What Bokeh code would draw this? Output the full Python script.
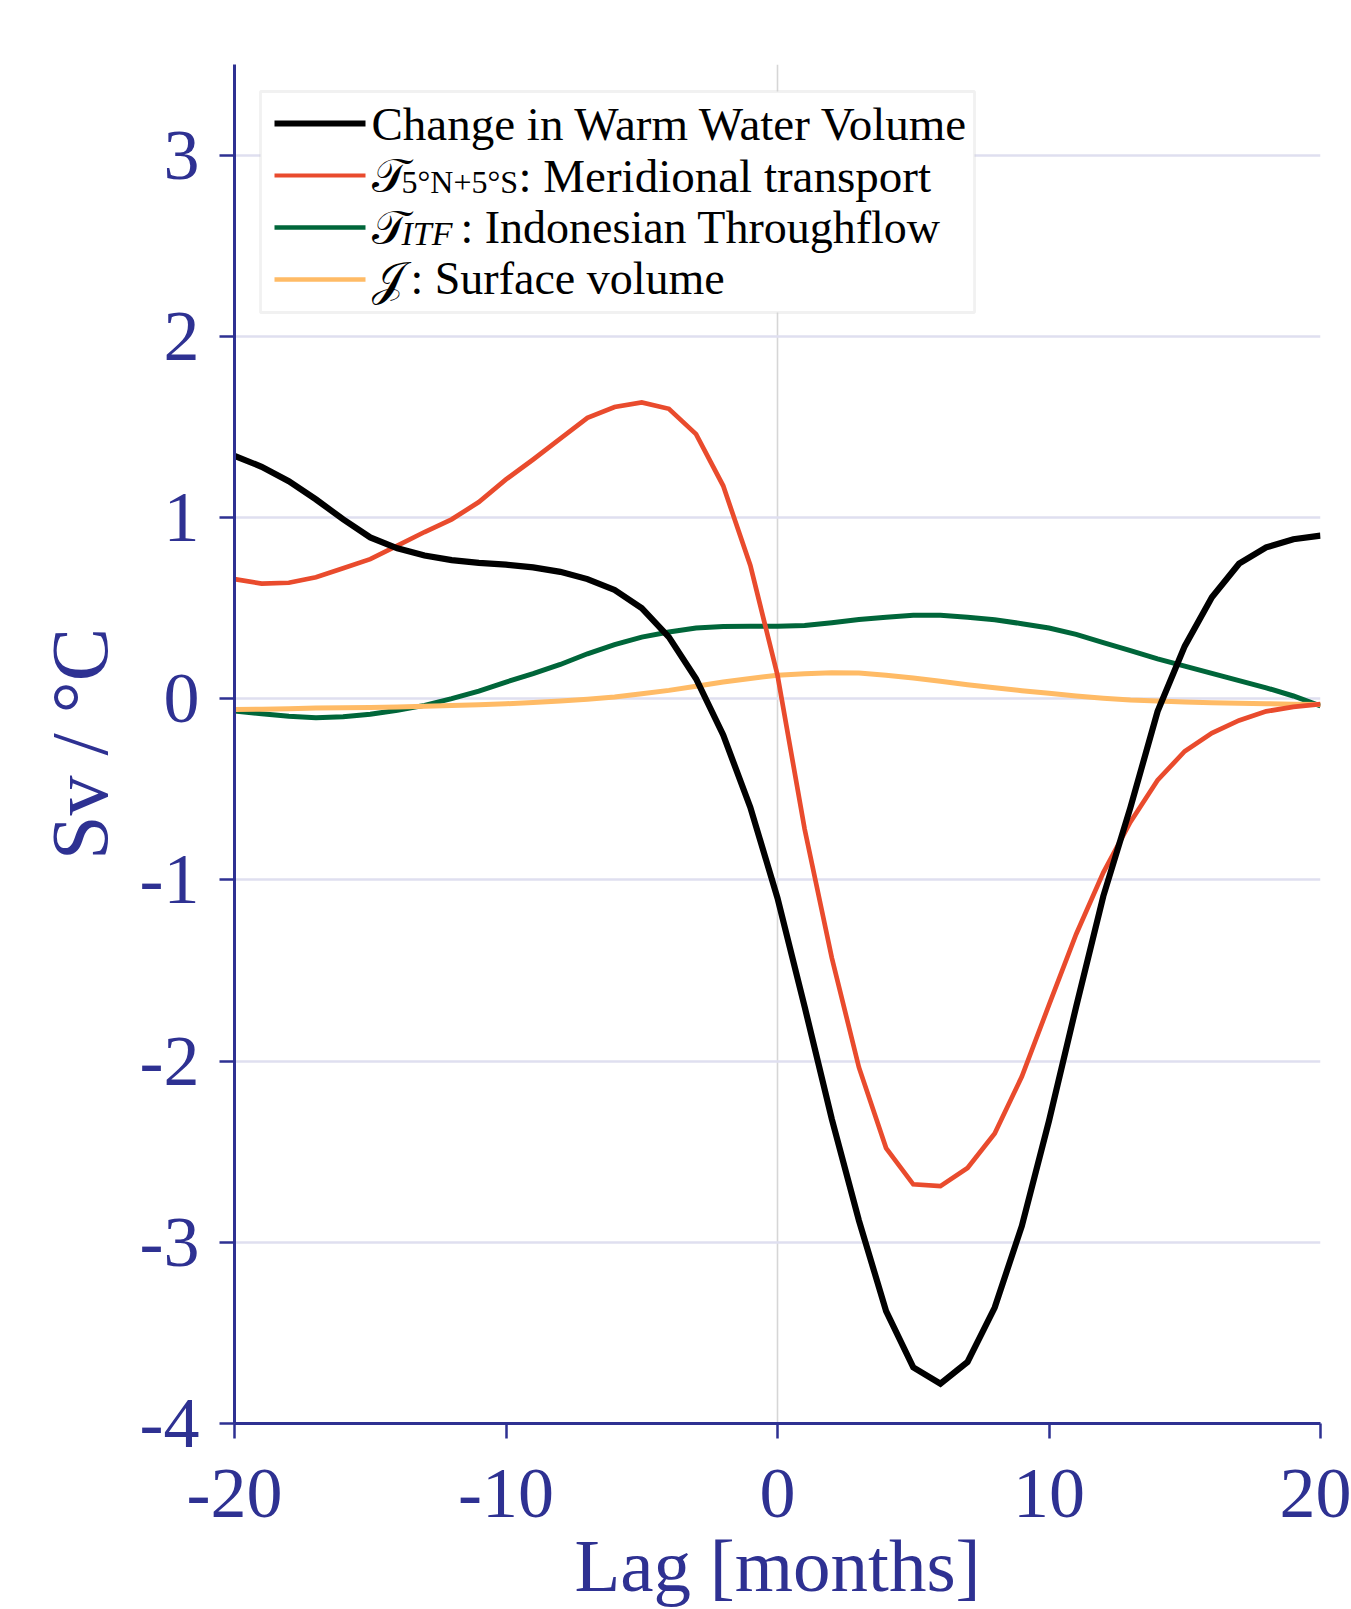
from bokeh.plotting import figure
from bokeh.models import Range1d, FixedTicker, BoxAnnotation, Arrow, Label, ColumnDataSource
from bokeh.embed import file_html
from bokeh.resources import INLINE

# ---------------- data ----------------
lags = list(range(-20, 21))

wwv_change = [1.34, 1.28, 1.20, 1.10, 0.99, 0.89, 0.83, 0.79, 0.765, 0.75,
              0.74, 0.725, 0.70, 0.66, 0.60, 0.50, 0.34, 0.11, -0.20, -0.60,
              -1.10, -1.70, -2.32, -2.88, -3.38, -3.69, -3.78, -3.66, -3.36, -2.91,
              -2.33, -1.70, -1.09, -0.60, -0.07, 0.29, 0.56, 0.745, 0.835, 0.88,
              0.90]

meridional = [0.66, 0.635, 0.64, 0.67, 0.72, 0.77, 0.845, 0.92, 0.99, 1.085,
              1.21, 1.32, 1.435, 1.55, 1.61, 1.635, 1.60, 1.46, 1.175, 0.735,
              0.13, -0.72, -1.43, -2.035, -2.48, -2.68, -2.69, -2.59, -2.40, -2.085,
              -1.69, -1.30, -0.96, -0.68, -0.45, -0.29, -0.19, -0.12, -0.07, -0.045,
              -0.03]

itf = [-0.068, -0.083, -0.097, -0.105, -0.10, -0.086, -0.064, -0.037, 0.0, 0.042,
       0.092, 0.138, 0.189, 0.248, 0.298, 0.34, 0.368, 0.39, 0.399, 0.40,
       0.40, 0.404, 0.419, 0.437, 0.45, 0.46, 0.46, 0.45, 0.436, 0.414,
       0.39, 0.355, 0.31, 0.265, 0.22, 0.18, 0.14, 0.10, 0.06, 0.015,
       -0.04]

surface = [-0.06, -0.058, -0.055, -0.052, -0.05, -0.048, -0.046, -0.042, -0.037, -0.033,
           -0.028, -0.021, -0.013, -0.003, 0.009, 0.027, 0.046, 0.069, 0.092, 0.112,
           0.13, 0.138, 0.143, 0.142, 0.13, 0.114, 0.096, 0.077, 0.06, 0.044,
           0.03, 0.015, 0.003, -0.007, -0.013, -0.018, -0.022, -0.025, -0.028, -0.03,
           -0.032]

x_ticks = [-20, -10, 0, 10, 20]
y_ticks = [-4, -3, -2, -1, 0, 1, 2, 3]
x_ref_lines = [0]

x_label = "Lag [months]"
y_label = "Sv / °C"

# ---------------- styles ----------------
AXIS = "#2E3192"
C_BLACK = "#000000"
C_RED = "#E94B2D"
C_GREEN = "#00663A"
C_YELLOW = "#FFBB66"
SERIF = "Liberation Serif"

W, H = 1351, 1609
BL, BR, BT, BB = 234, 31, 64, 186

p = figure(width=W, height=H,
           x_range=Range1d(-20, 20), y_range=Range1d(-4, 3.5),
           output_backend="svg", toolbar_location=None,
           min_border_left=BL, min_border_right=BR,
           min_border_top=BT, min_border_bottom=BB)
p.outline_line_color = None
p.background_fill_color = "white"
p.border_fill_color = "white"

for ax in (p.xaxis[0], p.yaxis[0]):
    ax.axis_line_color = AXIS
    ax.axis_line_width = 3
    ax.major_tick_line_color = AXIS
    ax.major_tick_line_width = 2.5
    ax.major_tick_out = 15
    ax.major_tick_in = 0
    ax.minor_tick_line_color = None
    ax.major_label_text_color = AXIS
    ax.major_label_text_font = SERIF
    ax.major_label_text_font_size = "72px"
    ax.axis_label_text_color = AXIS
    ax.axis_label_text_font = SERIF
    ax.axis_label_text_font_style = "normal"

p.xaxis.ticker = FixedTicker(ticks=x_ticks)
p.yaxis.ticker = FixedTicker(ticks=y_ticks)
p.xaxis.major_label_overrides = {t: str(t) for t in x_ticks}
p.yaxis.major_label_overrides = {t: str(t) for t in y_ticks}
p.xaxis.major_label_standoff = 31
p.yaxis.major_label_standoff = 20
p.xaxis.axis_label = x_label
p.xaxis.axis_label_text_font_size = "75px"
p.xaxis.axis_label_standoff = 4
p.yaxis.axis_label = y_label
p.yaxis.axis_label_text_font_size = "80px"
p.yaxis.axis_label_standoff = 13

p.ygrid.ticker = FixedTicker(ticks=y_ticks)
p.ygrid.grid_line_color = "#DFDFF0"
p.ygrid.grid_line_width = 2.6
p.xgrid.ticker = FixedTicker(ticks=x_ref_lines)
p.xgrid.grid_line_color = "#D6D6D6"
p.xgrid.grid_line_width = 1.6

src = ColumnDataSource(dict(lag=lags, wwv=wwv_change, mer=meridional, itf=itf, sur=surface))
p.line("lag", "itf", source=src, line_color=C_GREEN, line_width=5.0, line_join="miter")
p.line("lag", "sur", source=src, line_color=C_YELLOW, line_width=5.0, line_join="miter")
p.line("lag", "mer", source=src, line_color=C_RED, line_width=4.7, line_join="miter")
p.line("lag", "wwv", source=src, line_color=C_BLACK, line_width=6.2, line_join="miter")

# ---------------- legend (screen units, relative to the plot frame) ----------------
p.add_layout(BoxAnnotation(left=26, right=740, bottom=1111, top=1332,
                           left_units="screen", right_units="screen",
                           bottom_units="screen", top_units="screen",
                           fill_color="white", fill_alpha=1.0,
                           line_color="#CFCFCF", line_width=2.8, level="overlay"))

rows = [(1300, C_BLACK, 6.0), (1248, C_RED, 4.2), (1196, C_GREEN, 4.6), (1144, C_YELLOW, 4.6)]
for yy, col, lw in rows:
    p.add_layout(Arrow(start=None, end=None, x_start=40, y_start=yy, x_end=131, y_end=yy,
                       start_units="screen", end_units="screen",
                       line_color=col, line_width=lw, level="overlay"))

def lab(x, y, text, size="47px", style="normal"):
    p.add_layout(Label(x=x, y=y, x_units="screen", y_units="screen", text=text,
                       text_font=SERIF, text_font_size=size, text_font_style=style,
                       text_color="black", text_align="left", text_baseline="alphabetic",
                       level="overlay"))

lab(137, 1300, "Change in Warm Water Volume")
lab(137, 1248, "\U0001D4AF")
lab(167, 1242, "5°N+5°S", size="32px")
lab(284, 1248, ": Meridional transport")
lab(137, 1196, "\U0001D4AF")
lab(167, 1190, "ITF", size="34px", style="italic")
lab(226, 1196, ": Indonesian Throughflow", size="46px")
lab(137, 1145, "\U0001D4A5")
lab(176, 1145, ": Surface volume", size="46px")

open("out.html", "w").write(file_html(p, INLINE))
